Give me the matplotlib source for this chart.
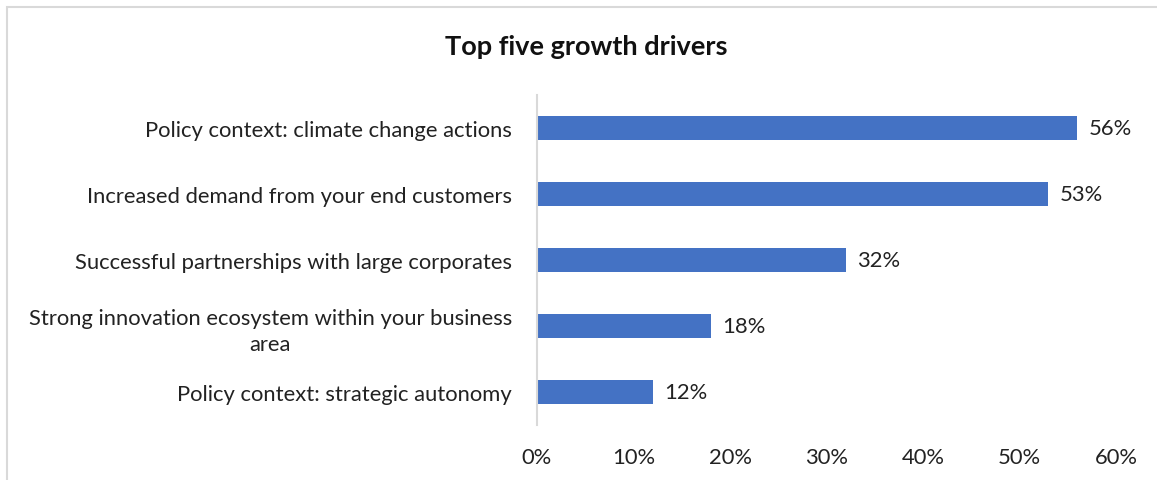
import matplotlib.pyplot as plt
from matplotlib.patches import Rectangle
from matplotlib.ticker import FuncFormatter

# growth drivers, top to bottom
drivers = [
    "Policy context: climate change actions",
    "Increased demand from your end customers",
    "Successful partnerships with large corporates",
    "Strong innovation ecosystem within your business\narea",
    "Policy context: strategic autonomy",
]
shares = [56, 53, 32, 18, 12]
xticks = [0, 10, 20, 30, 40, 50, 60]

bar_color = "#4472C4"
text_color = "#222222"
fs = 15.8
plt.rcParams["font.family"] = ["Lato", "DejaVu Sans"]

W, H = 1157, 481
fig = plt.figure(figsize=(W / 100, H / 100), dpi=100)
ax = fig.add_axes([537 / W, 1 - 426 / H, (1116 - 537) / W, (426 - 96) / H])

ypos = list(range(len(drivers)))
ax.barh(ypos, shares, height=0.36, color=bar_color)
for y, v in zip(ypos, shares):
    ax.text(v + 1.2, y, f"{v}%", va="center", ha="left", fontsize=fs, color=text_color)

ax.set_xlim(0, 60)
ax.set_ylim(len(drivers) - 0.5, -0.5)
ax.set_xticks(xticks)
ax.xaxis.set_major_formatter(FuncFormatter(lambda v, p: f"{v:.0f}%"))
ax.set_yticks(ypos)
ax.set_yticklabels(drivers, fontsize=fs, color=text_color, ha="right",
                   multialignment="center", linespacing=1.35)
ax.tick_params(axis="x", length=0, pad=16, labelsize=fs, labelcolor=text_color)
ax.tick_params(axis="y", length=0, pad=18)

for side in ["top", "right", "bottom"]:
    ax.spines[side].set_visible(False)
ax.spines["left"].set_color("#d9d9d9")
ax.spines["left"].set_linewidth(1.5)

fig.text(586 / W, 1 - 47 / H, "Top five growth drivers", ha="center", va="center",
         fontsize=19.5, fontweight="bold", color="#111111")

# light frame round the chart
fig.add_artist(Rectangle((6.5 / W, -0.1), 1.2, 1 - 7.5 / H + 0.1, transform=fig.transFigure,
                         fill=False, edgecolor="#d9d9d9", linewidth=1.5))

fig.savefig("out.png", dpi=100)
